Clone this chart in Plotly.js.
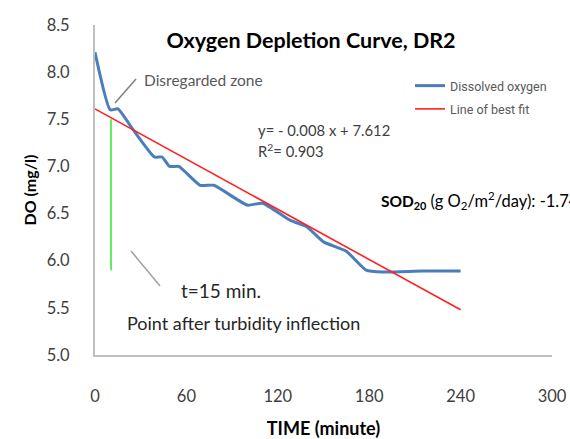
<!DOCTYPE html>
<html>
<head>
<meta charset="utf-8">
<script src="https://cdn.plot.ly/plotly-3.0.1.min.js"></script>
<style>html,body{margin:0;padding:0;background:#fff;}#chart{width:570px;height:439px;}</style>
</head>
<body>
<div id="chart"></div>
<script>
// Dissolved oxygen readings (minutes, mg/l)
const timeMin = [0, 10, 15, 25, 39, 44, 49, 55, 69, 78, 100, 110, 128, 139, 150, 165, 178, 189, 215, 240];
const doValues = [8.21, 7.60, 7.61, 7.39, 7.10, 7.10, 7.00, 7.00, 6.80, 6.80, 6.59, 6.61, 6.43, 6.36, 6.20, 6.10, 5.90, 5.88, 5.89, 5.89];
// Line of best fit as drawn
const fitX = [0, 240];
const fitY = [7.61, 5.48];
// Marker for t = 15 min
const markX = [10.5, 10.5];
const markY = [5.9, 7.5];
const xTicks = [0, 60, 120, 180, 240, 300];
const yTicks = [5.0, 5.5, 6.0, 6.5, 7.0, 7.5, 8.0, 8.5];

const L = 95, R = 552, T = 25, B = 355;
const px = v => (v - L) / (R - L);
const py = v => (B - v) / (B - T);

const traces = [
  {x: timeMin, y: doValues, type: 'scatter', mode: 'lines', name: 'Dissolved oxygen',
   line: {color: '#4a7ebb', width: 3, shape: 'spline', smoothing: 0.5}, legendgroup: 'a'},
  {x: fitX, y: fitY, type: 'scatter', mode: 'lines', name: 'Line of best fit',
   line: {color: '#ff2020', width: 1.6}, legendgroup: 'b'},
  {x: markX, y: markY, type: 'scatter', mode: 'lines', showlegend: false,
   line: {color: '#5ef05e', width: 2}, hoverinfo: 'skip'}
];

const layout = {
  width: 570, height: 439,
  margin: {l: L, r: 570 - R, t: T, b: 439 - B},
  paper_bgcolor: '#ffffff', plot_bgcolor: '#ffffff',
  font: {family: 'Lato, "Open Sans", sans-serif', color: '#404040'},
  title: {text: '<b>Oxygen Depletion Curve, DR2</b>', font: {family: 'Lato, sans-serif', size: 21.5, color: '#000000'},
          x: px(311), xref: 'paper', xanchor: 'center', y: 1 - 40 / 439, yref: 'container', yanchor: 'middle'},
  xaxis: {range: [0, 300], tickvals: xTicks, ticktext: xTicks.map(String), showgrid: false, zeroline: false,
          showline: true, linecolor: '#bfbfbf', linewidth: 2, ticks: '', ticklabelstandoff: 25,
          tickfont: {size: 16.5, color: '#404040'},
          title: {text: '<b>TIME (minute)</b>', font: {size: 18, color: '#000000'}, standoff: 20}},
  yaxis: {range: [5.0, 8.5], tickvals: yTicks, ticktext: yTicks.map(v => v.toFixed(1)), showgrid: false, zeroline: false,
          showline: true, linecolor: '#bfbfbf', linewidth: 2, ticks: '', ticklabelstandoff: 20,
          tickfont: {size: 16.5, color: '#404040'},
          title: {text: '<b>DO (mg/l)</b>', font: {size: 16, color: '#000000'}, standoff: 6}},
  showlegend: true,
  legend: {x: px(410), y: py(71), xanchor: 'left', yanchor: 'top', bgcolor: 'rgba(0,0,0,0)',
           font: {family: 'Roboto, sans-serif', size: 12.5, color: '#595959'}, traceorder: 'grouped',
           tracegroupgap: 4, itemwidth: 30},
  shapes: [
    {type: 'line', xref: 'paper', yref: 'paper', x0: px(115), y0: py(103), x1: px(136), y1: py(79),
     line: {color: '#808080', width: 1.5}},
    {type: 'line', xref: 'paper', yref: 'paper', x0: px(131), y0: py(251), x1: px(160), y1: py(286),
     line: {color: '#a0a0a0', width: 1.5}}
  ],
  annotations: [
    {text: 'Disregarded zone', xref: 'paper', yref: 'paper', x: px(142), y: py(80), xanchor: 'left', yanchor: 'middle',
     showarrow: false, font: {size: 15.5, color: '#595959'}},
    {text: 'y= - 0.008 x + 7.612', xref: 'paper', yref: 'paper', x: px(256), y: py(130), xanchor: 'left', yanchor: 'middle',
     showarrow: false, font: {size: 14.8, color: '#404040'}},
    {text: 'R<sup>2</sup>= 0.903', xref: 'paper', yref: 'paper', x: px(256), y: py(150), xanchor: 'left', yanchor: 'middle',
     showarrow: false, font: {size: 14.8, color: '#404040'}},
    {text: '<b>SOD<sub>20</sub></b> <span style="font-size:16.5px">(g O<sub>2</sub>/m<sup>2</sup>/day): -1.74</span>', xref: 'paper', yref: 'paper', x: px(379), y: py(200),
     xanchor: 'left', yanchor: 'middle', showarrow: false, font: {size: 15.5, color: '#000000'}},
    {text: 't=15 min.', xref: 'paper', yref: 'paper', x: px(179), y: py(290), xanchor: 'left', yanchor: 'middle',
     showarrow: false, font: {size: 19, color: '#262626'}},
    {text: 'Point after turbidity inflection', xref: 'paper', yref: 'paper', x: px(125), y: py(323), xanchor: 'left', yanchor: 'middle',
     showarrow: false, font: {size: 18, color: '#262626'}}
  ]
};

Plotly.newPlot('chart', traces, layout, {displayModeBar: false, staticPlot: true});
</script>
</body>
</html>
